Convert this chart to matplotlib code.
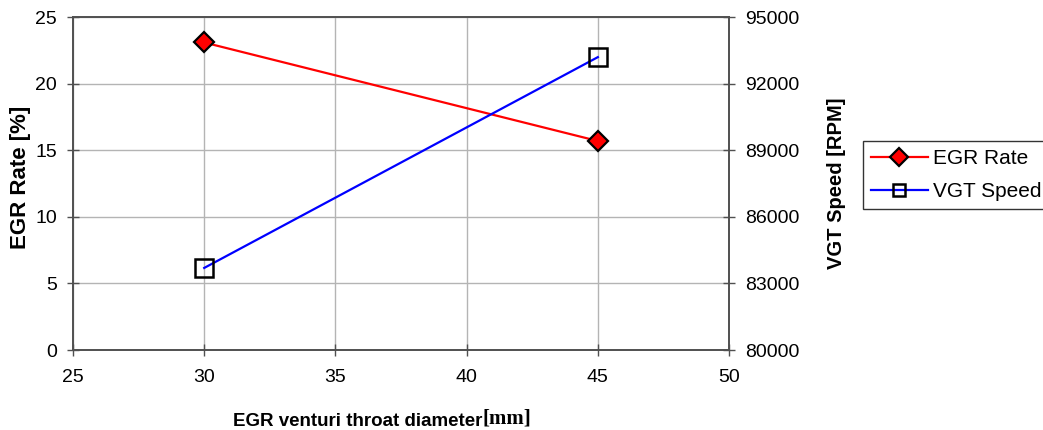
import matplotlib
matplotlib.use("Agg")
import matplotlib.pyplot as plt

# data
diameter = [30, 45]
egr_rate = [23.1, 15.7]
vgt_speed = [83700, 93200]

x_ticks = [25, 30, 35, 40, 45, 50]
egr_ticks = [0, 5, 10, 15, 20, 25]
vgt_ticks = [80000, 83000, 86000, 89000, 92000, 95000]

plt.rcParams['font.family'] = ['Liberation Sans', 'DejaVu Sans']

fig = plt.figure(figsize=(10.43, 4.30), dpi=100)
ax = fig.add_axes([0.070, 0.186, 0.629, 0.774])
ax2 = ax.twinx()

# gridlines behind everything
ax.set_axisbelow(True)
ax.grid(True, color='#b4b4b4', linewidth=1.0)

l1, = ax.plot(diameter, egr_rate, color='red', linewidth=1.6, marker='D',
              markersize=10, markerfacecolor='red', markeredgecolor='black',
              markeredgewidth=1.6, label='EGR Rate', zorder=3)
l2, = ax2.plot(diameter, vgt_speed, color='blue', linewidth=1.6, marker='s',
               markersize=13.5, markerfacecolor='none', markeredgecolor='black',
               markeredgewidth=1.8, label='VGT Speed', zorder=3)

ax.set_xlim(25, 50)
ax.set_ylim(0, 25)
ax2.set_ylim(80000, 95000)
ax.set_xticks(x_ticks)
ax.set_yticks(egr_ticks)
ax2.set_yticks(vgt_ticks)

for a in (ax, ax2):
    for s in a.spines.values():
        s.set_color('#505050')
        s.set_linewidth(1.2)
    a.tick_params(direction='inout', length=8, width=1.0, color='#505050',
                  labelsize=14, pad=7.5)
ax.tick_params(axis='x', pad=10)

# axis titles (placed by hand like the original)
fig.text(21 / 1043, 1 - 177 / 430, 'EGR Rate [%]', rotation=90, ha='center',
         va='center', fontsize=16, fontweight='bold')
fig.text(836 / 1043, 1 - 183 / 430, 'VGT Speed [RPM]', rotation=90,
         ha='center', va='center', fontsize=14.5, fontweight='bold')

# x label: sans part plus serif unit
fig.text(482 / 1043, 1 - 426 / 430, 'EGR venturi throat diameter', ha='right',
         va='baseline', fontsize=13.5, fontweight='bold')
fig.text(483 / 1043, 1 - 423 / 430, '[mm]', ha='left', va='baseline',
         fontsize=15, fontweight='bold',
         family=['Liberation Serif', 'DejaVu Serif'])

leg = fig.legend(handles=[l1, l2], loc='upper left',
                 bbox_to_anchor=(863 / 1043, 1 - 141 / 430),
                 frameon=True, fancybox=False, fontsize=15,
                 handlelength=2.7, borderpad=0.4, labelspacing=0.65,
                 handletextpad=0.25, borderaxespad=0)
leg.get_frame().set_edgecolor('black')
leg.get_frame().set_linewidth(1.0)
for h in leg.legend_handles:
    h.set_markersize(9)

fig.savefig('out.png', dpi=100)
